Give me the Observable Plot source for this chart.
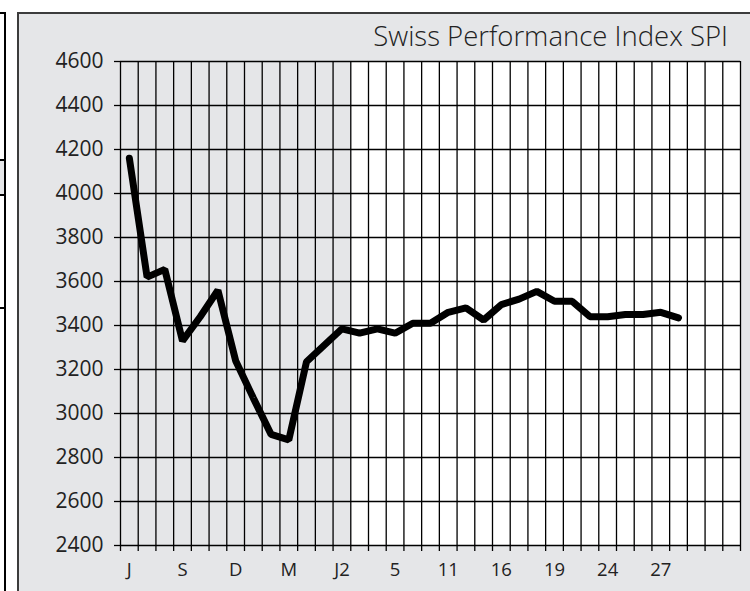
<!DOCTYPE html>
<html><head><meta charset="utf-8">
<script src="https://cdn.jsdelivr.net/npm/d3@7"></script>
<script src="https://cdn.jsdelivr.net/npm/@observablehq/plot@0.6"></script>
<style>
html,body{margin:0;padding:0;background:#fff;width:750px;height:591px;overflow:hidden;position:relative;font-family:"Open Sans",sans-serif;}
#panel{position:absolute;left:17px;top:12px;width:760px;height:600px;background:#e5e6e8;border-top:2px solid #3c3c3c;border-left:2px solid #3c3c3c;box-sizing:border-box;}
.blk{position:absolute;background:#000;}
#sidefill{position:absolute;left:0;top:161px;width:4px;height:34px;background:#e5e6e8;}
#title{position:absolute;right:22px;top:17px;font-size:27.5px;font-weight:300;color:#222;white-space:nowrap;}
#chart{position:absolute;left:0;top:0;}
</style></head><body>
<div id="sidefill"></div>
<div class="blk" style="left:4px;top:12px;width:2px;height:579px"></div>
<div class="blk" style="left:0;top:12px;width:6px;height:2px"></div>
<div class="blk" style="left:0;top:159px;width:6px;height:2px"></div>
<div class="blk" style="left:0;top:194px;width:6px;height:2px"></div>
<div class="blk" style="left:0;top:307px;width:6px;height:2px"></div>
<div id="panel"></div>
<div id="title">Swiss Performance Index SPI</div>
<div id="chart"></div>
<script>
const xLabels = ["J","S","D","M","J2","5","11","16","19","24","27"];
const spi = [4160, 3620, 3655, 3330, 3440, 3560, 3240, 3070, 2905, 2880, 3235, 3310,
             3385, 3365, 3385, 3365, 3410, 3410, 3460, 3480, 3425, 3495, 3520, 3555,
             3510, 3510, 3440, 3440, 3450, 3450, 3460, 3435];
const yTicks = [2400, 2600, 2800, 3000, 3200, 3400, 3600, 3800, 4000, 4200, 4400, 4600];
const nBands = 35;
const shadedBands = 13;
const labelEvery = 3;

const boundaries = d3.range(nBands + 1);
const grey = "#e5e6e8";

const chart = Plot.plot({
  width: 750, height: 591,
  marginLeft: 120, marginRight: 10, marginTop: 61, marginBottom: 46,
  style: {background: "transparent", fontFamily: "'Open Sans', sans-serif", color: "#222", overflow: "visible"},
  x: {domain: [0, nBands], axis: null},
  y: {domain: [2400, 4600], axis: null},
  marks: [
    Plot.rect([0], {x1: 0, x2: shadedBands, y1: 2400, y2: 4600, fill: grey}),
    Plot.rect([0], {x1: shadedBands, x2: nBands, y1: 2400, y2: 4600, fill: "#fff"}),
    Plot.ruleX(boundaries, {x: d => d, y1: 2400, y2: 4600, stroke: "#000", strokeWidth: 1.3}),
    Plot.ruleY(yTicks, {y: d => d, x1: 0, x2: nBands, stroke: "#000", strokeWidth: 1.3}),
    Plot.axisX(boundaries, {anchor: "bottom", tickSize: 6, tickFormat: () => "", strokeWidth: 1.3, stroke: "#000"}),
    Plot.axisY(yTicks, {anchor: "left", tickSize: 6, tickPadding: 11, fontSize: 21, tickFormat: d => String(d), strokeWidth: 1.3, stroke: "#000", fill: "#222"}),
    Plot.text(xLabels, {x: (d, i) => i * labelEvery + 0.5, y: 2400, dy: 25, fontSize: 18.5, fill: "#222", text: d => d}),
    Plot.line(spi, {x: (d, i) => i + 0.5, y: d => d, stroke: "#000", strokeWidth: 7, strokeLinejoin: "miter"})
  ]
});
document.getElementById("chart").appendChild(chart);
</script></body></html>
